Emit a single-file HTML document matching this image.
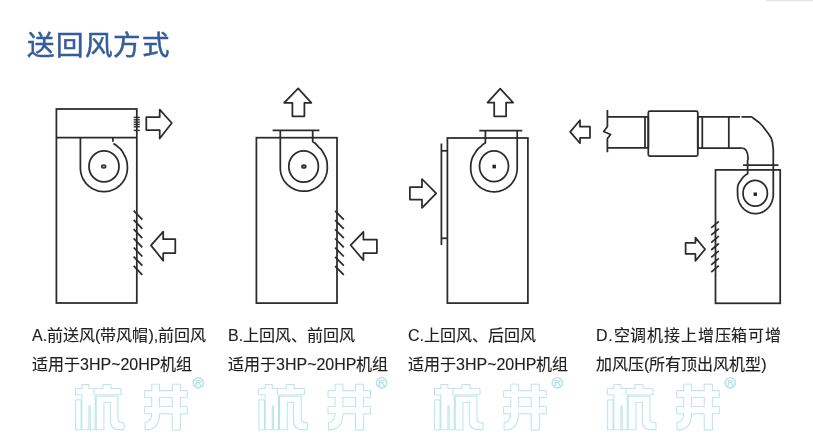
<!DOCTYPE html>
<html lang="zh-CN">
<head>
<meta charset="utf-8">
<style>
html,body{margin:0;padding:0;background:#fff;}
body{width:813px;height:436px;position:relative;overflow:hidden;font-family:"Liberation Sans",sans-serif;-webkit-font-smoothing:antialiased;}
.title,.cap{will-change:transform;}
.title{position:absolute;left:27.4px;top:28.1px;font-size:27.5px;letter-spacing:1.75px;line-height:36px;color:#345d98;-webkit-text-stroke:0.5px #345d98;white-space:nowrap;}
.cap{position:absolute;top:321.7px;font-size:16px;line-height:28.6px;color:#202020;-webkit-text-stroke:0.12px #202020;white-space:nowrap;}
svg{position:absolute;left:0;top:0;}
.topline{position:absolute;left:766px;top:0;width:47px;height:1px;background:#e6e6e6;box-shadow:0 0.5px 1px #eee;}
</style>
</head>
<body>
<div class="topline"></div>
<div class="title">送回风方式</div>
<svg width="813" height="436" viewBox="0 0 813 436" fill="none" stroke="#2b2b2b" stroke-width="1.75" stroke-linejoin="round" stroke-linecap="butt">
  <!-- A -->
  <rect x="56.4" y="109" width="80.4" height="194" stroke-linejoin="miter"/>
  <line x1="56.4" y1="137.5" x2="136.8" y2="137.5"/>
  <path d="M80.40 137.50 L80.40 168.00 L80.43 169.24 L80.53 170.47 L80.69 171.69 L80.92 172.91 L81.20 174.11 L81.56 175.29 L81.97 176.46 L82.44 177.60 L82.97 178.71 L83.56 179.80 L84.21 180.85 L84.91 181.87 L85.66 182.85 L86.46 183.79 L87.31 184.69 L88.21 185.54 L89.15 186.34 L90.13 187.09 L91.15 187.79 L92.20 188.44 L93.29 189.03 L94.40 189.56 L95.54 190.03 L96.71 190.44 L97.89 190.80 L99.09 191.08 L100.31 191.31 L101.53 191.47 L102.76 191.57 L104.00 191.60 L105.24 191.57 L106.47 191.47 L107.69 191.30 L108.90 191.08 L110.10 190.78 L111.29 190.43 L112.45 190.01 L113.59 189.53 L114.70 188.99 L115.78 188.39 L116.82 187.74 L117.83 187.04 L118.80 186.28 L119.73 185.47 L120.62 184.62 L121.46 183.72 L122.25 182.78 L122.99 181.79 L123.67 180.78 L124.31 179.72 L124.89 178.64 L125.41 177.53 L125.87 176.40 L126.27 175.24 L126.62 174.06 L126.90 172.87 L127.12 171.66 L127.27 170.45 L127.37 169.22 L127.40 168.00 L127.38 166.77 L127.33 165.55 L127.23 164.32 L127.09 163.09 L126.89 161.87 L126.63 160.65 L126.29 159.44 L125.87 158.26 L125.37 157.11 L124.78 156.00 L124.17 154.90 L123.58 153.77 L122.99 152.63 L122.34 151.48 L121.62 150.38 L120.80 149.34 L119.86 148.42 L118.83 147.59 L117.82 146.72 L116.81 145.82 L115.75 144.95 L114.61 144.17 L113.39 143.55"/>
  <line x1="112.9" y1="137.5" x2="112.9" y2="141.7"/>
  <ellipse cx="104" cy="166.4" rx="15" ry="15.5"/>
  <ellipse cx="103.7" cy="166.5" rx="2.1" ry="1.6" stroke-width="1.3" fill="#888"/>
  <g stroke-width="1.4">
    <line x1="133.7" y1="117.4" x2="139.8" y2="117.4"/>
    <line x1="133.7" y1="119.8" x2="139.8" y2="119.8"/>
    <line x1="133.7" y1="122.2" x2="139.8" y2="122.2"/>
    <line x1="133.7" y1="124.5" x2="139.8" y2="124.5"/>
    <line x1="133.7" y1="126.8" x2="139.8" y2="126.8"/>
    <line x1="133.7" y1="130.4" x2="139.8" y2="130.4"/>
  </g>
  <polygon points="146.3,117.2 159.7,117.2 159.7,109.6 171.8,123 159.7,138.5 159.7,130.1 146.3,130.1"/>
  <g>
    <line x1="133.7" y1="210.7" x2="142.3" y2="219.7"/>
    <line x1="133.7" y1="219.9" x2="142.3" y2="228.9"/>
    <line x1="133.7" y1="229.1" x2="142.3" y2="238.1"/>
    <line x1="133.7" y1="238.3" x2="142.3" y2="247.3"/>
    <line x1="133.7" y1="247.5" x2="142.3" y2="256.5"/>
    <line x1="133.7" y1="256.7" x2="142.3" y2="265.7"/>
    <line x1="133.7" y1="265.9" x2="142.3" y2="274.9"/>
  </g>
  <polygon points="175.3,239.2 163.2,239.2 163.2,231.6 151,245.4 163.2,260.6 163.2,253.2 175.3,253.2"/>

  <!-- B -->
  <rect x="256.4" y="137.7" width="80.6" height="165.4" stroke-linejoin="miter"/>
  <line x1="272.6" y1="130.4" x2="319.4" y2="130.4"/>
  <path d="M280.30 130.50 L280.30 168.00 L280.33 169.25 L280.44 170.50 L280.61 171.74 L280.85 172.97 L281.16 174.19 L281.53 175.38 L281.97 176.55 L282.47 177.70 L283.03 178.82 L283.65 179.90 L284.33 180.94 L285.06 181.95 L285.84 182.92 L286.68 183.84 L287.56 184.71 L288.48 185.54 L289.45 186.32 L290.45 187.04 L291.49 187.71 L292.56 188.32 L293.66 188.88 L294.79 189.38 L295.94 189.82 L297.11 190.20 L298.29 190.52 L299.50 190.78 L300.71 190.98 L301.93 191.11 L303.15 191.19 L304.38 191.20 L305.61 191.14 L306.83 191.03 L308.04 190.85 L309.25 190.60 L310.43 190.30 L311.61 189.93 L312.76 189.50 L313.88 189.01 L314.98 188.46 L316.05 187.86 L317.09 187.20 L318.09 186.48 L319.05 185.71 L319.97 184.90 L320.84 184.03 L321.67 183.12 L322.45 182.17 L323.18 181.18 L323.85 180.15 L324.47 179.08 L325.03 177.99 L325.53 176.86 L325.97 175.71 L326.35 174.54 L326.67 173.35 L326.93 172.14 L327.11 170.93 L327.24 169.70 L327.30 168.47 L327.30 167.24 L327.27 166.00 L327.22 164.76 L327.13 163.51 L327.00 162.26 L326.80 161.01 L326.52 159.77 L326.16 158.55 L325.69 157.36 L325.13 156.21 L324.50 155.09 L323.90 153.95 L323.29 152.79 L322.65 151.62 L321.94 150.48 L321.12 149.41 L320.19 148.45 L319.16 147.58 L318.19 146.61 L317.26 145.52 L316.29 144.38 L315.23 143.31 L314.04 142.43 L312.71 141.81 L312.70 130.50"/>
  <ellipse cx="303.6" cy="166.5" rx="14.8" ry="15.6"/>
  <ellipse cx="303.9" cy="166.5" rx="2" ry="1.6" stroke-width="1.5" fill="#777"/>
  <polygon points="292.4,116.3 292.4,102.8 284.1,102.8 298.2,88.4 311.4,102.8 304.4,102.8 304.4,116.3"/>
  <g>
    <line x1="335.1" y1="210.9" x2="343.8" y2="219.7"/>
    <line x1="335.1" y1="220.1" x2="343.8" y2="228.9"/>
    <line x1="335.1" y1="229.3" x2="343.8" y2="238.1"/>
    <line x1="335.1" y1="238.5" x2="343.8" y2="247.3"/>
    <line x1="335.1" y1="247.7" x2="343.8" y2="256.5"/>
    <line x1="335.1" y1="256.9" x2="343.8" y2="265.7"/>
    <line x1="335.1" y1="266.1" x2="343.8" y2="274.9"/>
  </g>
  <polygon points="376.9,239.5 363.4,239.5 363.4,231.8 350.7,245.2 363.4,260.2 363.4,253 376.9,253"/>

  <!-- C -->
  <rect x="447.4" y="138" width="80.5" height="165.1" stroke-linejoin="miter"/>
  <line x1="479.3" y1="130.6" x2="522.2" y2="130.6"/>
  <path d="M517.20 130.60 L517.20 168.30 L517.17 169.52 L517.07 170.75 L516.92 171.96 L516.70 173.17 L516.42 174.36 L516.07 175.54 L515.67 176.70 L515.21 177.84 L514.68 178.95 L514.10 180.03 L513.47 181.08 L512.78 182.10 L512.03 183.08 L511.24 184.03 L510.40 184.93 L509.51 185.78 L508.57 186.59 L507.60 187.34 L506.58 188.05 L505.53 188.70 L504.44 189.29 L503.32 189.82 L502.18 190.29 L501.01 190.70 L499.81 191.05 L498.61 191.33 L497.39 191.55 L496.15 191.70 L494.91 191.78 L493.67 191.80 L492.43 191.75 L491.20 191.63 L489.97 191.45 L488.76 191.20 L487.56 190.88 L486.37 190.51 L485.21 190.07 L484.08 189.56 L482.98 189.00 L481.90 188.39 L480.86 187.71 L479.86 186.98 L478.90 186.20 L477.99 185.37 L477.12 184.50 L476.29 183.57 L475.52 182.61 L474.80 181.61 L474.13 180.57 L473.52 179.50 L472.96 178.40 L472.47 177.27 L472.03 176.12 L471.65 174.95 L471.34 173.76 L471.08 172.55 L470.90 171.34 L470.77 170.11 L470.71 168.88 L470.70 167.65 L470.74 166.42 L470.81 165.19 L470.92 163.95 L471.07 162.71 L471.28 161.48 L471.56 160.24 L471.91 159.03 L472.34 157.83 L472.86 156.66 L473.46 155.54 L474.15 154.46 L474.86 153.40 L475.55 152.30 L476.25 151.18 L477.00 150.08 L477.85 149.04 L478.80 148.10 L479.87 147.30 L480.90 146.41 L481.90 145.43 L482.96 144.46 L484.12 143.62 L485.40 143.02 L485.40 130.60"/>
  <ellipse cx="494" cy="166.3" rx="14.5" ry="15.4"/>
  <rect x="492.5" y="164.7" width="3.4" height="3.7" fill="#222" stroke="none"/>
  <line x1="441.4" y1="143.5" x2="441.4" y2="245"/>
  <line x1="441.4" y1="150.8" x2="447.4" y2="150.8"/>
  <line x1="441.4" y1="238.3" x2="447.4" y2="238.3"/>
  <polygon points="494.2,116.3 494.2,102.6 487.5,102.6 500.2,88.6 513.1,102.6 506.1,102.6 506.1,116.3"/>
  <polygon points="409.9,187.2 422,187.2 422,179 436.2,193.4 422,207.8 422,199.6 409.9,199.6"/>

  <!-- D -->
  <polygon points="590,126.7 580,126.7 580,120.2 570.2,131.9 580,143.2 580,137.8 590,137.8"/>
  <path d="M607.4 110 V126.5 L603.7 131.5 L610.6 134.5 L607.4 138.5 V152.2"/>
  <line x1="607.4" y1="116.9" x2="645" y2="116.9"/>
  <line x1="607.4" y1="147.8" x2="645" y2="147.8"/>
  <rect x="645" y="116.9" width="3.3" height="30.9"/>
  <rect x="648.3" y="111.2" width="49.5" height="44.8" rx="1.5"/>
  <rect x="697.8" y="116.9" width="4.5" height="31.1"/>
  <line x1="702.3" y1="116.9" x2="740" y2="116.9"/>
  <line x1="741.5" y1="116.9" x2="751.8" y2="116.9"/>
  <line x1="702.3" y1="148" x2="741.9" y2="148"/>
  <line x1="728.8" y1="116.9" x2="728.8" y2="148"/>
  <path d="M751.6 116.9 L754.4 119 L758.8 122.2 L762.6 126 L767.9 133 L771.1 137.8 L772.5 142.5 L773.3 150 V160"/>
  <path d="M741.9 148 Q747.8 148.4 748 157.8 V160"/>
  <line x1="743.1" y1="165.2" x2="778.4" y2="165.2"/>
  <rect x="715.5" y="169.9" width="64.7" height="133.4" stroke-linejoin="miter"/>
  <path d="M773.30 160.00 L773.30 194.00 L773.28 194.94 L773.22 195.87 L773.12 196.81 L772.98 197.74 L772.80 198.66 L772.58 199.58 L772.31 200.49 L772.01 201.39 L771.66 202.29 L771.27 203.16 L770.84 204.02 L770.36 204.87 L769.83 205.69 L769.27 206.49 L768.66 207.26 L768.01 208.00 L767.31 208.71 L766.58 209.38 L765.80 210.02 L764.99 210.61 L764.14 211.15 L763.26 211.65 L762.35 212.09 L761.41 212.49 L760.44 212.82 L759.46 213.10 L758.46 213.32 L757.45 213.47 L756.43 213.57 L755.40 213.60 L754.37 213.57 L753.35 213.47 L752.34 213.32 L751.34 213.10 L750.36 212.82 L749.40 212.48 L748.46 212.08 L747.55 211.63 L746.67 211.13 L745.82 210.58 L745.02 209.99 L744.24 209.35 L743.51 208.68 L742.82 207.97 L742.18 207.22 L741.57 206.45 L741.01 205.65 L740.50 204.83 L740.02 203.99 L739.60 203.12 L739.21 202.25 L738.87 201.36 L738.57 200.46 L738.31 199.55 L738.09 198.64 L737.91 197.72 L737.78 196.79 L737.68 195.86 L737.62 194.93 L737.60 194.00 L737.59 193.07 L737.57 192.13 L737.54 191.17 L737.52 190.20 L737.52 189.21 L737.56 188.20 L737.65 187.19 L737.81 186.17 L738.06 185.17 L738.40 184.19 L738.84 183.25 L739.38 182.36 L740.00 181.53 L740.61 180.68 L741.21 179.81 L741.83 178.93 L742.48 178.05 L743.18 177.18 L743.94 176.35 L744.76 175.58 L745.66 174.89 L746.63 174.30 L747.66 173.83 L747.60 160.00"/>
  <ellipse cx="755.2" cy="193.2" rx="12.2" ry="12.9"/>
  <rect x="753.6" y="192.5" width="3.4" height="3.4" fill="#222" stroke="none"/>
  <g>
    <line x1="711.2" y1="227.8" x2="718.8" y2="221.3"/>
    <line x1="711.2" y1="235.2" x2="718.8" y2="228.7"/>
    <line x1="711.2" y1="242.6" x2="718.8" y2="236.1"/>
    <line x1="711.2" y1="250.0" x2="718.8" y2="243.5"/>
    <line x1="711.2" y1="257.4" x2="718.8" y2="250.9"/>
    <line x1="711.2" y1="264.8" x2="718.8" y2="258.3"/>
    <line x1="711.2" y1="272.2" x2="718.8" y2="265.7"/>
  </g>
  <polygon points="685.6,242.9 695.4,242.9 695.4,237.6 705.1,249.2 695.4,260.9 695.4,253.8 685.6,253.8"/>
  <g transform="translate(72,380)">
  <g stroke="#ace0e3" stroke-width="1.7" fill="none">
<rect x="10.3" y="4.8" width="6.2" height="5"/>
<rect x="3.8" y="9" width="18.2" height="5.5"/>
<rect x="22" y="9" width="26.6" height="5.5"/>
<rect x="31.3" y="4.8" width="7.3" height="5"/>
<rect x="10.3" y="14" width="6.2" height="35.5"/>
<rect x="16" y="14.5" width="6.7" height="11"/>
<rect x="18.6" y="20" width="4.1" height="29.5"/>
<rect x="4.1" y="20.3" width="4.5" height="29.2"/>
<path d="M24.6 49.5 V16.5 H45.5 V38.2 Q45.5 43.4 51.6 43.4 V49.3 H47 Q38.7 49.3 38.7 40.5 V22 H31.5 V49.5 Z"/>
<rect x="100.6" y="4.6" width="7.3" height="45"/>
<rect x="73.1" y="11.2" width="41.7" height="5.8"/>
<rect x="73.1" y="27" width="41.7" height="6.4"/>
<path d="M80.2 4.6 H87.2 V33 Q87.2 49.6 73.5 49.6 V43.1 Q80.2 41.5 80.2 33 Z"/>
</g>
  <g fill="#fff" stroke="none">
<rect x="10.3" y="4.8" width="6.2" height="5"/>
<rect x="3.8" y="9" width="18.2" height="5.5"/>
<rect x="22" y="9" width="26.6" height="5.5"/>
<rect x="31.3" y="4.8" width="7.3" height="5"/>
<rect x="10.3" y="14" width="6.2" height="35.5"/>
<rect x="16" y="14.5" width="6.7" height="11"/>
<rect x="18.6" y="20" width="4.1" height="29.5"/>
<rect x="4.1" y="20.3" width="4.5" height="29.2"/>
<path d="M24.6 49.5 V16.5 H45.5 V38.2 Q45.5 43.4 51.6 43.4 V49.3 H47 Q38.7 49.3 38.7 40.5 V22 H31.5 V49.5 Z"/>
<rect x="100.6" y="4.6" width="7.3" height="45"/>
<rect x="73.1" y="11.2" width="41.7" height="5.8"/>
<rect x="73.1" y="27" width="41.7" height="6.4"/>
<path d="M80.2 4.6 H87.2 V33 Q87.2 49.6 73.5 49.6 V43.1 Q80.2 41.5 80.2 33 Z"/>
</g>
  <line x1="22" y1="9.5" x2="22" y2="14" stroke="#ace0e3" stroke-width="1"/>
  <circle cx="126.3" cy="2.8" r="5.1" fill="none" stroke="#b6e4e7" stroke-width="1.6"/>
  <text x="126.4" y="6.3" font-size="9.5" font-weight="bold" fill="#b6e4e7" stroke="none" text-anchor="middle" font-family="Liberation Sans, sans-serif">R</text>
</g>
  <g transform="translate(255.3,380)">
  <g stroke="#ace0e3" stroke-width="1.7" fill="none">
<rect x="10.3" y="4.8" width="6.2" height="5"/>
<rect x="3.8" y="9" width="18.2" height="5.5"/>
<rect x="22" y="9" width="26.6" height="5.5"/>
<rect x="31.3" y="4.8" width="7.3" height="5"/>
<rect x="10.3" y="14" width="6.2" height="35.5"/>
<rect x="16" y="14.5" width="6.7" height="11"/>
<rect x="18.6" y="20" width="4.1" height="29.5"/>
<rect x="4.1" y="20.3" width="4.5" height="29.2"/>
<path d="M24.6 49.5 V16.5 H45.5 V38.2 Q45.5 43.4 51.6 43.4 V49.3 H47 Q38.7 49.3 38.7 40.5 V22 H31.5 V49.5 Z"/>
<rect x="100.6" y="4.6" width="7.3" height="45"/>
<rect x="73.1" y="11.2" width="41.7" height="5.8"/>
<rect x="73.1" y="27" width="41.7" height="6.4"/>
<path d="M80.2 4.6 H87.2 V33 Q87.2 49.6 73.5 49.6 V43.1 Q80.2 41.5 80.2 33 Z"/>
</g>
  <g fill="#fff" stroke="none">
<rect x="10.3" y="4.8" width="6.2" height="5"/>
<rect x="3.8" y="9" width="18.2" height="5.5"/>
<rect x="22" y="9" width="26.6" height="5.5"/>
<rect x="31.3" y="4.8" width="7.3" height="5"/>
<rect x="10.3" y="14" width="6.2" height="35.5"/>
<rect x="16" y="14.5" width="6.7" height="11"/>
<rect x="18.6" y="20" width="4.1" height="29.5"/>
<rect x="4.1" y="20.3" width="4.5" height="29.2"/>
<path d="M24.6 49.5 V16.5 H45.5 V38.2 Q45.5 43.4 51.6 43.4 V49.3 H47 Q38.7 49.3 38.7 40.5 V22 H31.5 V49.5 Z"/>
<rect x="100.6" y="4.6" width="7.3" height="45"/>
<rect x="73.1" y="11.2" width="41.7" height="5.8"/>
<rect x="73.1" y="27" width="41.7" height="6.4"/>
<path d="M80.2 4.6 H87.2 V33 Q87.2 49.6 73.5 49.6 V43.1 Q80.2 41.5 80.2 33 Z"/>
</g>
  <line x1="22" y1="9.5" x2="22" y2="14" stroke="#ace0e3" stroke-width="1"/>
  <circle cx="126.3" cy="2.8" r="5.1" fill="none" stroke="#b6e4e7" stroke-width="1.6"/>
  <text x="126.4" y="6.3" font-size="9.5" font-weight="bold" fill="#b6e4e7" stroke="none" text-anchor="middle" font-family="Liberation Sans, sans-serif">R</text>
</g>
  <g transform="translate(431,380)">
  <g stroke="#ace0e3" stroke-width="1.7" fill="none">
<rect x="10.3" y="4.8" width="6.2" height="5"/>
<rect x="3.8" y="9" width="18.2" height="5.5"/>
<rect x="22" y="9" width="26.6" height="5.5"/>
<rect x="31.3" y="4.8" width="7.3" height="5"/>
<rect x="10.3" y="14" width="6.2" height="35.5"/>
<rect x="16" y="14.5" width="6.7" height="11"/>
<rect x="18.6" y="20" width="4.1" height="29.5"/>
<rect x="4.1" y="20.3" width="4.5" height="29.2"/>
<path d="M24.6 49.5 V16.5 H45.5 V38.2 Q45.5 43.4 51.6 43.4 V49.3 H47 Q38.7 49.3 38.7 40.5 V22 H31.5 V49.5 Z"/>
<rect x="100.6" y="4.6" width="7.3" height="45"/>
<rect x="73.1" y="11.2" width="41.7" height="5.8"/>
<rect x="73.1" y="27" width="41.7" height="6.4"/>
<path d="M80.2 4.6 H87.2 V33 Q87.2 49.6 73.5 49.6 V43.1 Q80.2 41.5 80.2 33 Z"/>
</g>
  <g fill="#fff" stroke="none">
<rect x="10.3" y="4.8" width="6.2" height="5"/>
<rect x="3.8" y="9" width="18.2" height="5.5"/>
<rect x="22" y="9" width="26.6" height="5.5"/>
<rect x="31.3" y="4.8" width="7.3" height="5"/>
<rect x="10.3" y="14" width="6.2" height="35.5"/>
<rect x="16" y="14.5" width="6.7" height="11"/>
<rect x="18.6" y="20" width="4.1" height="29.5"/>
<rect x="4.1" y="20.3" width="4.5" height="29.2"/>
<path d="M24.6 49.5 V16.5 H45.5 V38.2 Q45.5 43.4 51.6 43.4 V49.3 H47 Q38.7 49.3 38.7 40.5 V22 H31.5 V49.5 Z"/>
<rect x="100.6" y="4.6" width="7.3" height="45"/>
<rect x="73.1" y="11.2" width="41.7" height="5.8"/>
<rect x="73.1" y="27" width="41.7" height="6.4"/>
<path d="M80.2 4.6 H87.2 V33 Q87.2 49.6 73.5 49.6 V43.1 Q80.2 41.5 80.2 33 Z"/>
</g>
  <line x1="22" y1="9.5" x2="22" y2="14" stroke="#ace0e3" stroke-width="1"/>
  <circle cx="126.3" cy="2.8" r="5.1" fill="none" stroke="#b6e4e7" stroke-width="1.6"/>
  <text x="126.4" y="6.3" font-size="9.5" font-weight="bold" fill="#b6e4e7" stroke="none" text-anchor="middle" font-family="Liberation Sans, sans-serif">R</text>
</g>
  <g transform="translate(604,380)">
  <g stroke="#ace0e3" stroke-width="1.7" fill="none">
<rect x="10.3" y="4.8" width="6.2" height="5"/>
<rect x="3.8" y="9" width="18.2" height="5.5"/>
<rect x="22" y="9" width="26.6" height="5.5"/>
<rect x="31.3" y="4.8" width="7.3" height="5"/>
<rect x="10.3" y="14" width="6.2" height="35.5"/>
<rect x="16" y="14.5" width="6.7" height="11"/>
<rect x="18.6" y="20" width="4.1" height="29.5"/>
<rect x="4.1" y="20.3" width="4.5" height="29.2"/>
<path d="M24.6 49.5 V16.5 H45.5 V38.2 Q45.5 43.4 51.6 43.4 V49.3 H47 Q38.7 49.3 38.7 40.5 V22 H31.5 V49.5 Z"/>
<rect x="100.6" y="4.6" width="7.3" height="45"/>
<rect x="73.1" y="11.2" width="41.7" height="5.8"/>
<rect x="73.1" y="27" width="41.7" height="6.4"/>
<path d="M80.2 4.6 H87.2 V33 Q87.2 49.6 73.5 49.6 V43.1 Q80.2 41.5 80.2 33 Z"/>
</g>
  <g fill="#fff" stroke="none">
<rect x="10.3" y="4.8" width="6.2" height="5"/>
<rect x="3.8" y="9" width="18.2" height="5.5"/>
<rect x="22" y="9" width="26.6" height="5.5"/>
<rect x="31.3" y="4.8" width="7.3" height="5"/>
<rect x="10.3" y="14" width="6.2" height="35.5"/>
<rect x="16" y="14.5" width="6.7" height="11"/>
<rect x="18.6" y="20" width="4.1" height="29.5"/>
<rect x="4.1" y="20.3" width="4.5" height="29.2"/>
<path d="M24.6 49.5 V16.5 H45.5 V38.2 Q45.5 43.4 51.6 43.4 V49.3 H47 Q38.7 49.3 38.7 40.5 V22 H31.5 V49.5 Z"/>
<rect x="100.6" y="4.6" width="7.3" height="45"/>
<rect x="73.1" y="11.2" width="41.7" height="5.8"/>
<rect x="73.1" y="27" width="41.7" height="6.4"/>
<path d="M80.2 4.6 H87.2 V33 Q87.2 49.6 73.5 49.6 V43.1 Q80.2 41.5 80.2 33 Z"/>
</g>
  <line x1="22" y1="9.5" x2="22" y2="14" stroke="#ace0e3" stroke-width="1"/>
  <circle cx="126.3" cy="2.8" r="5.1" fill="none" stroke="#b6e4e7" stroke-width="1.6"/>
  <text x="126.4" y="6.3" font-size="9.5" font-weight="bold" fill="#b6e4e7" stroke="none" text-anchor="middle" font-family="Liberation Sans, sans-serif">R</text>
</g>
</svg>
<div class="cap" style="left:32px;">A.前送风(带风帽),前回风<br>适用于3HP~20HP机组</div>
<div class="cap" style="left:228px;">B.上回风、前回风<br>适用于3HP~20HP机组</div>
<div class="cap" style="left:408px;">C.上回风、后回风<br>适用于3HP~20HP机组</div>
<div class="cap" style="left:596px;"><span style="letter-spacing:0.82px">D.空调机接上增压箱可增</span><br>加风压(所有顶出风机型)</div>

</body>
</html>
